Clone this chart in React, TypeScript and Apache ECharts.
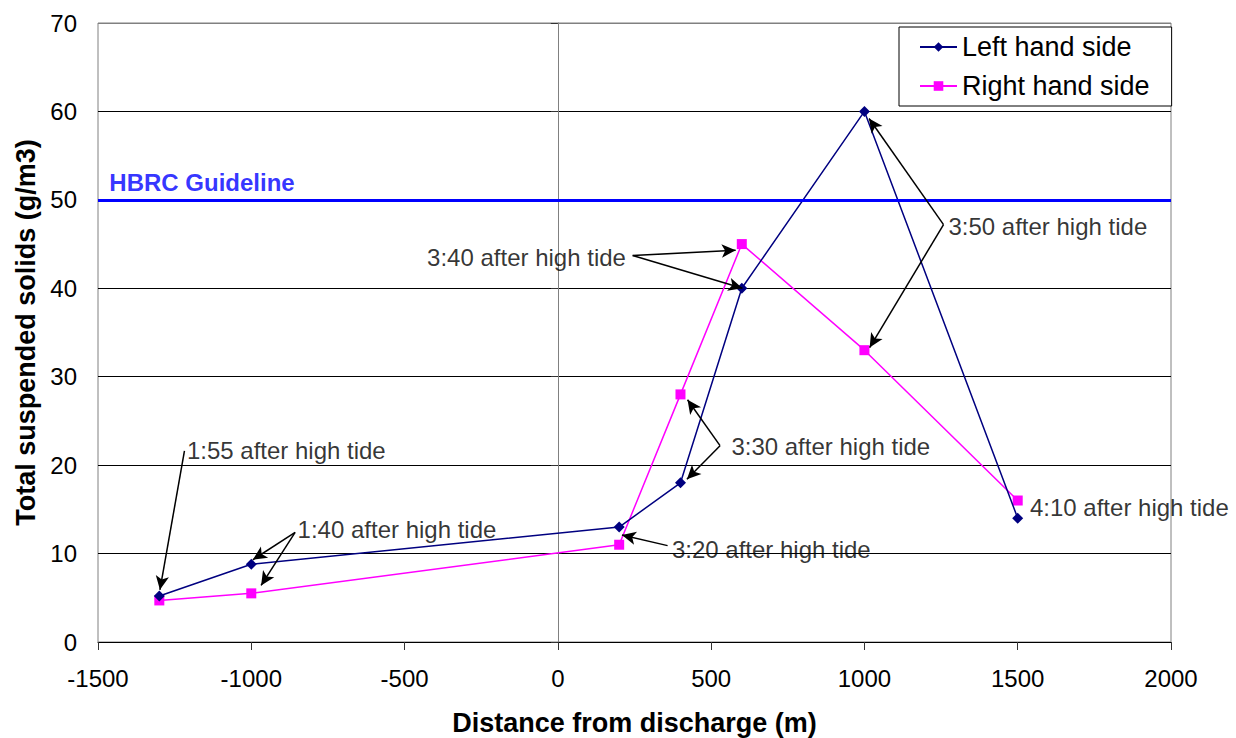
import React, { useEffect, useRef } from "react";
import * as echarts from "echarts";

const distances = [-1300, -1000, 200, 400, 600, 1000, 1500];
const leftHandSide = [5.2, 8.8, 13, 18, 40, 60, 14];
const rightHandSide = [4.7, 5.5, 11, 28, 45, 33, 16];
const guideline = 50;
const guidelineLabel = "HBRC Guideline";
const guidelineLabelAt = [-1463, 52.0];

const noteTexts = [
  "1:55 after high tide",
  "1:40 after high tide",
  "3:20 after high tide",
  "3:30 after high tide",
  "3:40 after high tide",
  "3:50 after high tide",
  "4:10 after high tide",
];
const noteX = [-1210, -849, 372, 566, 222, 1274, 1540];
const noteY = [21.6, 12.7, 10.5, 22.1, 43.5, 47.0, 15.2];
const noteSide = ["right", "right", "right", "right", "left", "right", "right"];

const arrowFrom = [
  [-1218, 21.6],
  [-857, 12.4],
  [-857, 12.4],
  [358, 10.9],
  [529, 22.2],
  [529, 22.2],
  [244, 43.7],
  [244, 43.7],
  [1258, 47.2],
  [1258, 47.2],
];
const arrowTo = [
  [-1298, 5.9],
  [-995, 9.3],
  [-968, 6.4],
  [209, 12.1],
  [423, 27.4],
  [421, 18.4],
  [580, 44.3],
  [602, 40.0],
  [1015, 59.2],
  [1017, 33.3],
];

const FONT = '"Liberation Sans", Arial, Helvetica, sans-serif';

export default function App() {
  const ref = useRef<HTMLDivElement>(null);
  useEffect(() => {
    if (!ref.current) return;
    const chart = echarts.init(ref.current, undefined, { renderer: "svg" });
    const option = {
      animation: false,
      backgroundColor: "#ffffff",
      textStyle: { fontFamily: FONT },
      grid: {
        left: 98,
        top: 23,
        right: 65,
        bottom: 96,
        outerBoundsMode: "none",
        containLabel: false,
        show: true,
        borderColor: "#808080",
        borderWidth: 1,
        backgroundColor: "transparent",
      },
      legend: {
        data: ["Left hand side", "Right hand side"],
        orient: "vertical",
        left: 899,
        top: 27,
        padding: [5, 22, 5, 20],
        itemGap: 9,
        itemWidth: 37,
        itemHeight: 12,
        borderColor: "#000",
        borderWidth: 1,
        backgroundColor: "#fff",
        textStyle: { fontSize: 27, color: "#000", fontFamily: FONT, lineHeight: 30 },
      },
      xAxis: {
        type: "value",
        min: -1500,
        max: 2000,
        interval: 500,
        name: "Distance from discharge (m)",
        nameLocation: "middle",
        nameGap: 67,
        nameTextStyle: { fontSize: 27, fontWeight: "bold", color: "#000", fontFamily: FONT },
        axisLine: { show: true, onZero: true, lineStyle: { color: "#000", width: 1 } },
        axisTick: { show: true, inside: false, length: 8, lineStyle: { color: "#333" } },
        axisLabel: {
          fontSize: 24,
          color: "#000",
          margin: 24,
          fontFamily: FONT,
          formatter: (v: number) => String(v),
        },
        splitLine: { show: false },
      },
      yAxis: [
        {
          type: "value",
          min: 0,
          max: 70,
          interval: 10,
          position: "left",
          name: "Total suspended solids (g/m3)",
          nameLocation: "middle",
          nameGap: 59,
          nameTextStyle: { fontSize: 27, fontWeight: "bold", color: "#000", fontFamily: FONT },
          axisLine: { show: false, onZero: false },
          axisTick: { show: false },
          axisLabel: {
            fontSize: 24,
            color: "#000",
            margin: 21,
            fontFamily: FONT,
            formatter: (v: number) => String(v),
          },
          splitLine: {
            show: true,
            lineStyle: {
              color: ["#000", "#000", "#000", "#000", "#000", "#000", "#000", "#808080"],
              width: 1,
            },
          },
        },
        {
          type: "value",
          min: 0,
          max: 70,
          interval: 10,
          position: "left",
          axisLine: { show: true, onZero: true, lineStyle: { color: "#808080", width: 1 } },
          axisTick: { show: true, inside: false, length: 7, lineStyle: { color: "#333" } },
          axisLabel: { show: false },
          splitLine: { show: false },
        },
      ],
      series: [
        {
          name: "Left hand side",
          type: "line",
          data: distances.map((d, i) => [d, leftHandSide[i]]),
          symbol: "diamond",
          symbolSize: 11,
          lineStyle: { color: "#000080", width: 1.5 },
          itemStyle: { color: "#000080" },
          z: 4,
          markLine: {
            silent: true,
            symbol: ["none", "none"],
            label: { show: false },
            lineStyle: { color: "#0000FF", width: 3, type: "solid" },
            data: [{ yAxis: guideline }],
          },
        },
        {
          name: "Right hand side",
          type: "line",
          data: distances.map((d, i) => [d, rightHandSide[i]]),
          symbol: "rect",
          symbolSize: 10,
          lineStyle: { color: "#FF00FF", width: 1.5 },
          itemStyle: { color: "#FF00FF" },
          z: 3,
        },
        {
          name: "notes",
          type: "scatter",
          silent: true,
          symbolSize: 0,
          z: 6,
          data: [
            ...noteTexts.map((t, i) => ({
              value: [noteX[i], noteY[i]],
              name: t,
              label: {
                show: true,
                position: noteSide[i],
                distance: 0,
                formatter: t,
                fontSize: 24,
                color: "#000",
                fontFamily: FONT,
              },
            })),
            {
              value: guidelineLabelAt,
              name: guidelineLabel,
              label: {
                show: true,
                position: "right",
                distance: 0,
                formatter: guidelineLabel,
                fontSize: 24,
                fontWeight: "bold",
                color: "#0000FF",
                fontFamily: FONT,
              },
            },
          ],
          markLine: {
            silent: true,
            symbol: ["none", "arrow"],
            symbolSize: [10, 14],
            label: { show: false },
            lineStyle: { color: "#000", width: 1.5, type: "solid" },
            data: arrowFrom.map((f, i) => [{ coord: f }, { coord: arrowTo[i] }]),
          },
        },
      ],
    };
    chart.setOption(option as any);
    return () => chart.dispose();
  }, []);
  return (
    <div
      ref={ref}
      style={{ position: "absolute", left: 0, top: 0, width: 1236, height: 738 }}
    />
  );
}
